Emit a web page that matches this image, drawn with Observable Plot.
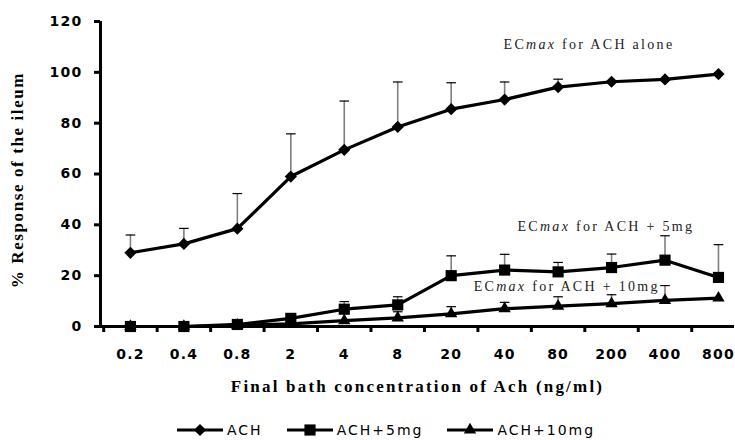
<!DOCTYPE html>
<html><head><meta charset="utf-8">
<script src="https://cdn.jsdelivr.net/npm/d3@7"></script>
<script src="https://cdn.jsdelivr.net/npm/@observablehq/plot@0.6"></script>
<style>
body{margin:0;background:#fff;}
#chart svg{display:block;}
#chart .annotation text{letter-spacing:2.3px;}
#chart g[aria-label="y-axis tick label"] text{letter-spacing:1.3px;font-size:14px;font-weight:bold;}
#chart g[aria-label="x-axis tick label"] text{letter-spacing:1.2px;font-size:14px;font-weight:bold;}
#chart .xtitle text{letter-spacing:2.2px;}
#chart .ytitle text{letter-spacing:1.6px;}
#legend{height:20px;display:flex;align-items:center;padding-left:177px;font-family:"DejaVu Sans",sans-serif;font-size:14px;letter-spacing:2px;}
#legend .item{display:flex;align-items:center;}
#legend svg{display:block;margin-right:4px;}
</style></head><body>
<div id="chart"></div>
<div id="legend"></div>
<script>
// ---- data ----
const concentrations = ["0.2","0.4","0.8","2","4","8","20","40","80","200","400","800"];
const series = ["ACH","ACH+5mg","ACH+10mg"];
const achMean   = [29, 32.5, 38.5, 59, 69.5, 78.5, 85.5, 89.3, 94.2, 96.3, 97.2, 99.3];
const achErr    = [36, 38.6, 52.3, 75.8, 88.7, 96.2, 95.9, 96.2, 97.3, null, null, null];
const ach5Mean  = [0, 0, 0.8, 3.2, 6.8, 8.5, 20, 22.2, 21.5, 23.2, 26.1, 19.3];
const ach5Err   = [null, null, null, null, 9.8, 11.7, 27.8, 28.4, 25.2, 28.5, 35.7, 32.2];
const ach10Mean = [0, 0, 0.5, 1, 2.3, 3.4, 5, 7, 8, 9, 10.3, 11.2];
const ach10Err  = [null, null, null, null, null, 5.8, 7.8, 9.5, 11.7, 12.5, 16.1, null];
const symbols = ["diamond2","square","triangle"];
const symbolR = [5.5, 6.3, 4.6];
const yTicks = [0, 20, 40, 60, 80, 100, 120];
const annText = ["for ACH alone", "for ACH + 5mg", "for ACH + 10mg"];
const annX = [6.98, 7.24, 6.42];
const annY = [110.8, 39.3, 15.7];
const xTitle = "Final bath concentration of Ach (ng/ml)";
const yTitle = "% Response of the ileum";

// ---- build tables ----
const means = [achMean, ach5Mean, ach10Mean];
const errs = [achErr, ach5Err, ach10Err];
const rows = [];
means.forEach((m, s) => m.forEach((v, i) => rows.push({series: series[s], i, value: v, err: errs[s][i]})));
const errRows = rows.filter(d => d.err != null);
const annotations = annText.map((t, k) => ({t, x: annX[k], y: annY[k]}));
const xDomain = [-0.56, 11.3];
const boundaries = concentrations.slice(0, -1).map((c, i) => i - 0.5).concat([concentrations.length - 1.5]);
const serif = "'Liberation Serif', 'Times New Roman', serif";

const plot = Plot.plot({
  width: 735, height: 420,
  marginLeft: 100, marginRight: 1, marginTop: 21, marginBottom: 94,
  style: {fontFamily: "'DejaVu Sans', sans-serif", fontSize: "14px", background: "#fff", color: "#000", overflow: "visible"},
  x: {type: "linear", domain: xDomain},
  y: {domain: [0, 120]},
  marks: [
    Plot.ruleX(errRows, {x: "i", y1: "value", y2: "err", stroke: "#7f7f7f", strokeWidth: 1.6}),
    Plot.link(errRows, {x1: d => d.i - 0.09, x2: d => d.i + 0.09, y1: "err", y2: "err", stroke: "#000", strokeWidth: 1.2}),
    Plot.ruleY([0], {stroke: "#000", strokeWidth: 3}),
    Plot.ruleX([xDomain[0]], {stroke: "#000", strokeWidth: 3}),
    Plot.axisY({ticks: yTicks, tickSize: 6, tickPadding: 12, strokeWidth: 3, label: null}),
    Plot.axisX({ticks: boundaries, tickSize: 6, tickFormat: () => "", strokeWidth: 3, label: null}),
    Plot.axisX({ticks: concentrations.map((c, i) => i), tickSize: 0, tickPadding: 23, tickFormat: i => concentrations[i], label: null}),
    Plot.line(rows, {x: "i", y: "value", z: "series", stroke: "#000", strokeWidth: 3.2}),
    ...series.map((s, k) => Plot.dot(rows.filter(d => d.series === s), {x: "i", y: "value", symbol: () => symbols[k], fill: "#000", stroke: "none", r: symbolR[k]})),
    Plot.text(annotations, {x: "x", y: "y", text: "t", textAnchor: "start", fontFamily: serif, fontSize: 14, fill: "#222"}),
    Plot.text([xTitle], {text: d => d, frameAnchor: "bottom", textAnchor: "middle", dy: 65, fontFamily: serif, fontWeight: "bold", fontSize: 17}),
    Plot.text([yTitle], {text: d => d, frameAnchor: "left", textAnchor: "middle", rotate: -90, dx: -83, dy: 6, fontFamily: serif, fontWeight: "bold", fontSize: 17})
  ],
  symbol: {domain: symbols, range: symbols, type: "identity"}
});
document.getElementById("chart").appendChild(plot);

// tag the three text marks (in mark order)
const textGroups = d3.select(plot).selectAll('g[aria-label="text"]').nodes();
d3.select(textGroups[0]).classed("annotation", true);
d3.select(textGroups[1]).classed("xtitle", true);
d3.select(textGroups[2]).classed("ytitle", true);

// italic "max" in annotations
d3.select(textGroups[0]).selectAll("text").each(function() {
  const el = d3.select(this);
  const rest = el.text();
  el.text(null);
  el.append("tspan").text("EC");
  el.append("tspan").attr("font-style", "italic").text("max");
  el.append("tspan").text(" " + rest);
});

// legend
const legend = d3.select("#legend");
const gaps = [24, 24, 0];
series.forEach((s, k) => {
  const item = legend.append("div").attr("class", "item").style("margin-right", gaps[k] + "px");
  const sw = item.append("svg").attr("width", 46).attr("height", 16);
  sw.append("line").attr("x1", 0).attr("x2", 46).attr("y1", 8).attr("y2", 8).attr("stroke", "#000").attr("stroke-width", 3);
  const type = [d3.symbolDiamond2, d3.symbolSquare, d3.symbolTriangle][k];
  sw.append("path").attr("transform", "translate(23,8)")
    .attr("d", d3.symbol(type, Math.PI * symbolR[k] * symbolR[k])()).attr("fill", "#000");
  item.append("span").text(s);
});
</script>
</body></html>
